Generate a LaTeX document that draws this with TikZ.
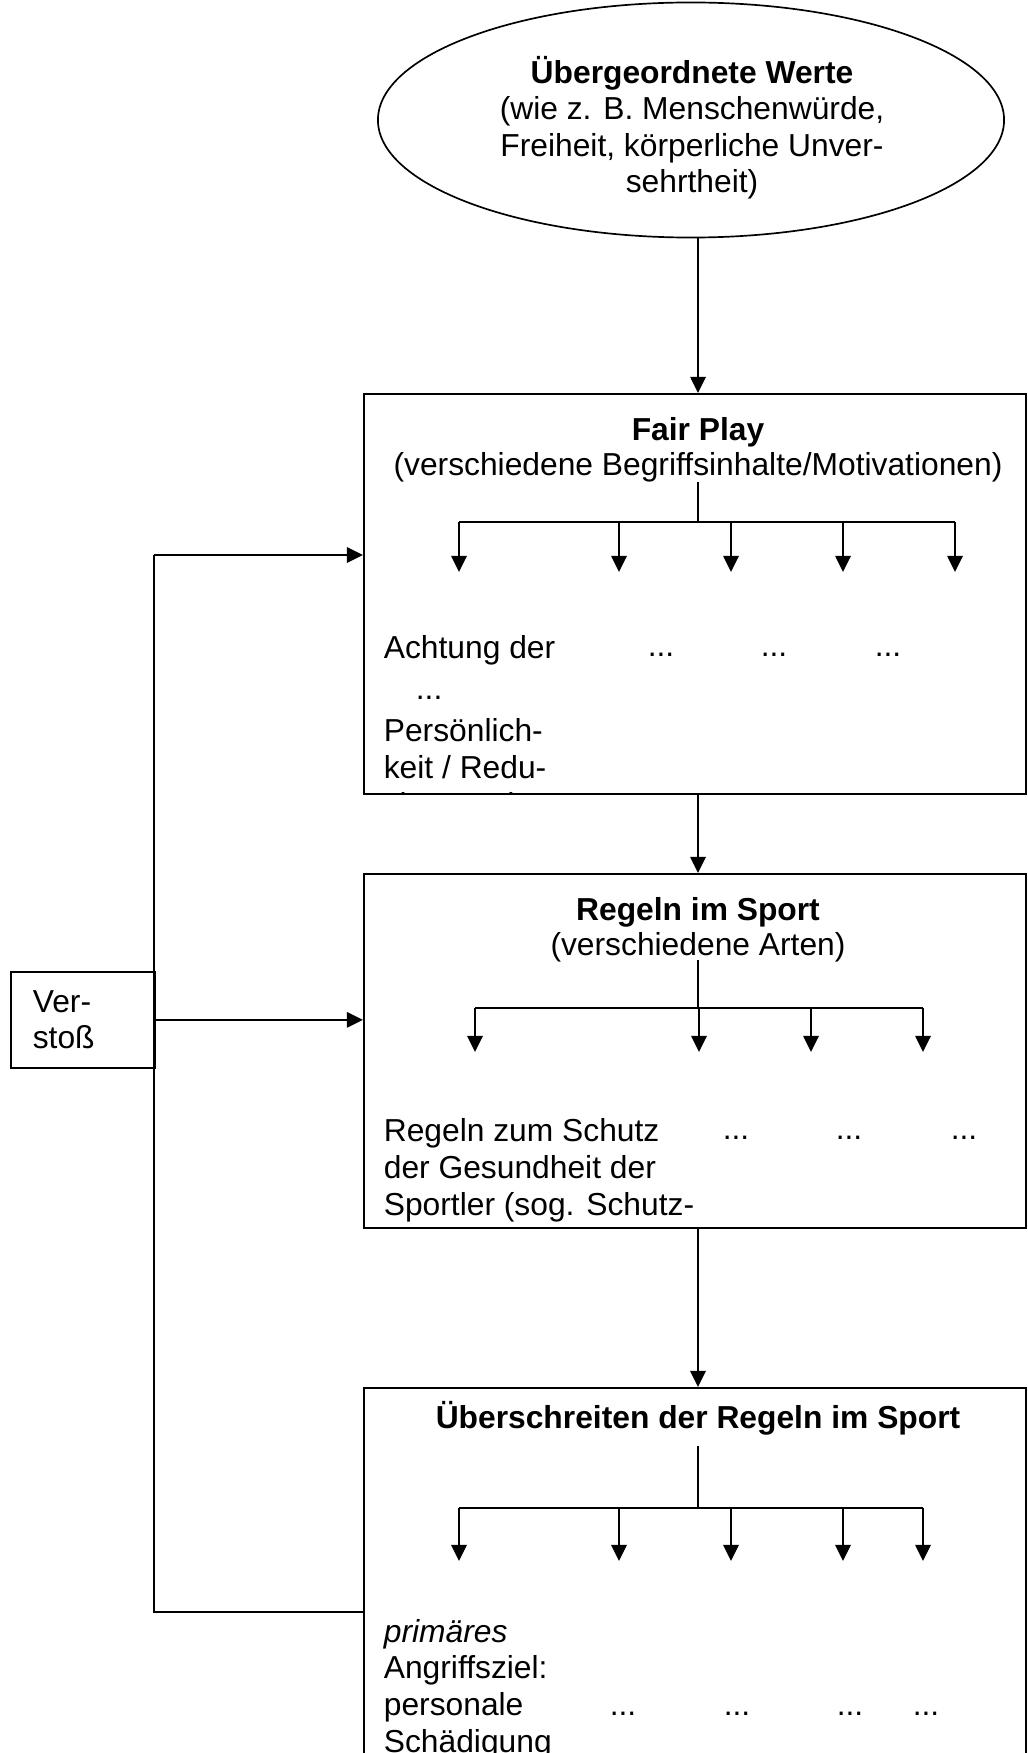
\documentclass[tikz,border=0pt]{standalone}
\usepackage{fontspec}
\setmainfont{Liberation Sans}
\usepackage{tikz}
\usetikzlibrary{arrows.meta}
\usetikzlibrary{positioning}
\usetikzlibrary{shapes.geometric}

\tikzset{
	every node/.style={font=\fontsize{22.6pt}{26pt}\selectfont, inner sep=0pt},
	box/.style={draw, anchor=north west, minimum width=16.55cm},
	dots/.style={anchor=base},
	txt/.style={anchor=base west, align=left},
	ttl/.style={anchor=base, font=\fontsize{22.6pt}{26pt}\selectfont\bfseries},
	sub/.style={anchor=base}
}

\begin{document}
\begin{tikzpicture}[x=0.025cm, y=-0.025cm, line width=1.2pt, >={Triangle[length=11.5pt,width=11pt]}]
	\useasboundingbox (0,0) rectangle (1027,1753);

	% shapes
	\node[draw, ellipse, minimum width=15.65cm, minimum height=5.875cm] (werte) at (691,120) {};
	\node[box, minimum height=10cm] (fair) at (363,393) {};
	\node[box, minimum height=8.85cm] (regeln) at (363,873) {};
	\node[box, minimum height=10cm] (ueber) at (363,1387) {};
	\node[draw, anchor=north west, minimum width=3.6cm, minimum height=2.4cm, text width=2.5cm, inner xsep=0.55cm, align=left] (verstoss) at (10,971) {Ver-\\stoß};

	% titles (base = last line)
	\node[anchor=base, align=center] (wertetext) at (692,193)
		{\textbf{Übergeordnete Werte}\\(wie z. B. Menschenwürde,\\Freiheit, körperliche Unver-\\sehrtheit)};
	\node[ttl] (fairtitle) at (698,440) {Fair Play};
	\node[sub] (fairsub) at (698,475) {(verschiedene Begriffsinhalte/Motivationen)};
	\node[ttl] (regtitle) at (698,920) {Regeln im Sport};
	\node[sub] (regsub) at (698,955) {(verschiedene Arten)};
	\node[ttl] (uebertitle) at (698,1428) {Überschreiten der Regeln im Sport};

	% texts (base = last line)
	\begin{scope}
		\clip (fair.north west) rectangle (fair.south east);
		\node[txt] (fairtext) at (383,815) {Achtung der\\[3.8pt]\hspace*{0.8cm}...\\[3.8pt]Persönlich-\\keit / Redu-\\zierung der};
	\end{scope}
	\node[txt] (regtext) at (383,1215) {Regeln zum Schutz\\der Gesundheit der\\Sportler (sog. Schutz-};
	\node[txt] (uebertext) at (383,1752) {\textit{primäres}\\Angriffsziel:\\personale\\Schädigung};

	\foreach \x [count=\i] in {661,774,888} {
		\node[dots] (fdots\i) at (\x,656) {...};
	}
	\foreach \x [count=\i] in {736,849,964} {
		\node[dots] (rdots\i) at (\x,1139) {...};
	}
	\foreach \x [count=\i] in {623,737,850,926} {
		\node[dots] (udots\i) at (\x,1715) {...};
	}

	% main arrows
	\coordinate (axis) at (698,0);
	\draw[->] (werte.south -| axis) -- (fair.north -| axis);
	\draw[->] (fair.south -| axis) -- (regeln.north -| axis);
	\draw[->] (regeln.south -| axis) -- (ueber.north -| axis);

	% branches
	\coordinate (fstem) at (698,482);
	\coordinate (fbar) at (698,522);
	\foreach \x [count=\i] in {459,619,731,843,955} {
		\coordinate (ft\i) at (\x,572);
	}
	\draw (fstem) -- (fbar) (ft1 |- fbar) -- (ft5 |- fbar);
	\foreach \i in {1,...,5} {
		\draw[->] (ft\i |- fbar) -- (ft\i);
	}

	\coordinate (rstem) at (698,960);
	\coordinate (rbar) at (698,1008);
	\foreach \x [count=\i] in {475,699,811,923} {
		\coordinate (rt\i) at (\x,1052);
	}
	\draw (rstem) -- (rbar) (rt1 |- rbar) -- (rt4 |- rbar);
	\foreach \i in {1,...,4} {
		\draw[->] (rt\i |- rbar) -- (rt\i);
	}

	\coordinate (ustem) at (698,1446);
	\coordinate (ubar) at (698,1508);
	\foreach \x [count=\i] in {459,619,731,843,923} {
		\coordinate (ut\i) at (\x,1561);
	}
	\draw (ustem) -- (ubar) (ut1 |- ubar) -- (ut5 |- ubar);
	\foreach \i in {1,...,5} {
		\draw[->] (ut\i |- ubar) -- (ut\i);
	}

	% Verstoss
	\coordinate (vtop) at (154,555);
	\coordinate (vbot) at (154,1612);
	\draw[->] (vtop) -- (vtop -| fair.west);
	\draw (vtop) -- (vbot) -- (vbot -| ueber.west);
	\draw[->] (verstoss.east) -- (verstoss.east -| regeln.west);
\end{tikzpicture}
\end{document}
